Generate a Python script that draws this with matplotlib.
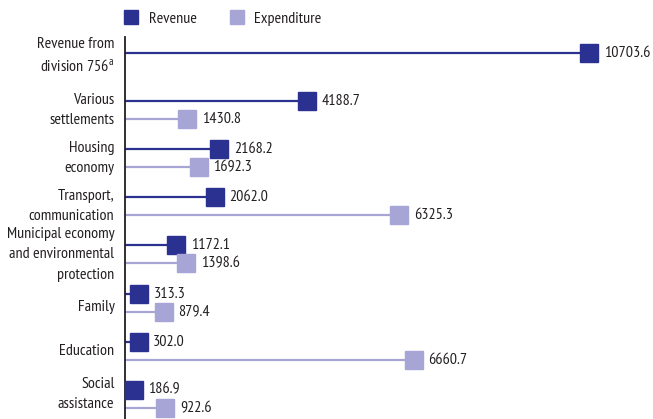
import matplotlib
matplotlib.use("Agg")
import matplotlib.pyplot as plt
from matplotlib.lines import Line2D
from matplotlib.transforms import offset_copy
import numpy as np

categories = [
    "Revenue from\ndivision 756$^{\\mathrm{a}}$",
    "Various\nsettlements",
    "Housing\neconomy",
    "Transport,\ncommunication",
    "Municipal economy\nand environmental\nprotection",
    "Family",
    "Education",
    "Social\nassistance",
]
revenue = [10703.6, 4188.7, 2168.2, 2062.0, 1172.1, 313.3, 302.0, 186.9]
expenditure = [None, 1430.8, 1692.3, 6325.3, 1398.6, 879.4, 6660.7, 922.6]

REV_COLOR = "#2b3190"
EXP_COLOR = "#a7a5d6"
TEXT_COLOR = "#231f20"
FONT = ["PT Sans Narrow", "DejaVu Sans"]

plt.rcParams["font.family"] = FONT
plt.rcParams["mathtext.fontset"] = "custom"
plt.rcParams["mathtext.rm"] = "PT Sans Narrow"

W, H = 653, 419
fig = plt.figure(figsize=(W / 100, H / 100), dpi=100)
ax = fig.add_axes([125.5 / W, 0, (W - 125.5) / W, (H - 37) / H])

offset = 0.1875
y = np.arange(len(categories))
# small vertical nudges for the category labels (in rows)
label_nudge = [-0.13, 0, 0, 0, 0, 0.09, 0, -0.09]

def draw_series(values, dy, color):
    for i, v in enumerate(values):
        if v is None:
            continue
        yy = i + dy
        ax.plot([0, v], [yy, yy], color=color, lw=1.6, solid_capstyle="butt", zorder=2)
        ax.plot(v, yy, marker="s", ms=13, color=color, mec=color, zorder=3, clip_on=False)
        ax.annotate(f"{v:.1f}", (v, yy), xytext=(10.5, 0), textcoords="offset points",
                    va="center", ha="left", fontsize=11.5, color=TEXT_COLOR)

draw_series(revenue, -offset, REV_COLOR)
draw_series(expenditure, offset, EXP_COLOR)

ax.set_xlim(0, 12180)
ax.set_ylim(7.42, -0.52)

# category labels to the left of the axis line
lbl_trans = offset_copy(ax.get_yaxis_transform(), fig=fig, x=-8, y=0, units="points")
for yi, name, dy in zip(y, categories, label_nudge):
    ax.text(0, yi + dy, name, transform=lbl_trans, ha="right", va="center", ma="right",
            fontsize=11.5, color=TEXT_COLOR, linespacing=1.55)

ax.set_yticks([])
ax.set_xticks([])
for s in ["top", "right", "bottom"]:
    ax.spines[s].set_visible(False)
ax.spines["left"].set_linewidth(1.3)
ax.spines["left"].set_color(TEXT_COLOR)
ax.patch.set_visible(False)

handles = [
    Line2D([], [], marker="s", ls="none", ms=10.5, color=REV_COLOR, label="Revenue"),
    Line2D([], [], marker="s", ls="none", ms=10.5, color=EXP_COLOR, label="Expenditure"),
]
fig.legend(handles=handles, loc="center left", bbox_to_anchor=(109 / W, 1 - 19 / H),
           ncol=2, frameon=False, fontsize=11.5, handlelength=1.0, handletextpad=0.6,
           columnspacing=2.0, labelcolor=TEXT_COLOR)

fig.savefig("out.png", dpi=100)
